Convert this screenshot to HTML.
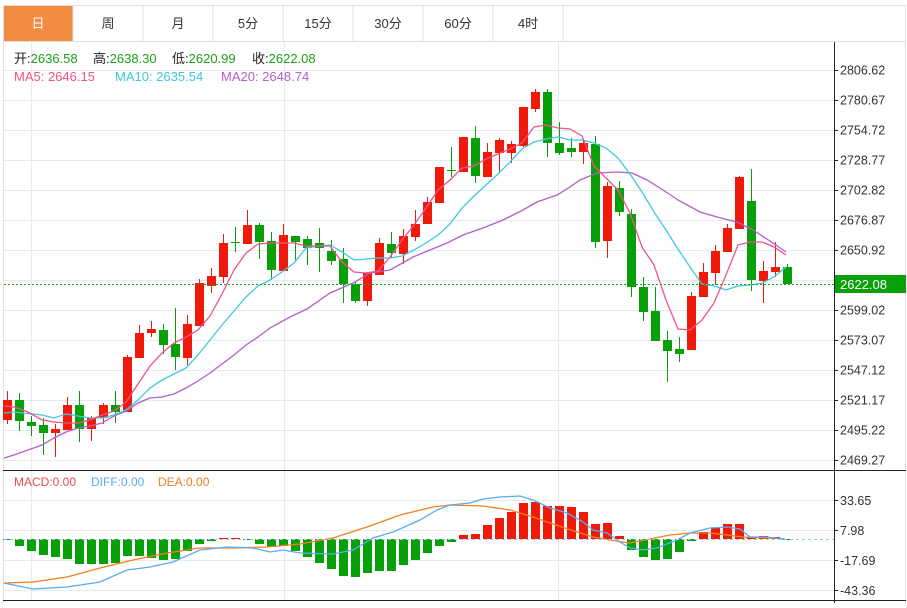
<!DOCTYPE html>
<html><head><meta charset="utf-8"><style>
body{margin:0;background:#fff;width:907px;height:603px;overflow:hidden;font-family:"Liberation Sans","Noto Sans CJK SC",sans-serif}
svg text{font-family:"Liberation Sans","Noto Sans CJK SC",sans-serif}
</style></head><body>
<svg id="s" width="907" height="603" xmlns="http://www.w3.org/2000/svg">
<rect x="3.5" y="5.5" width="902" height="600" fill="#fff" stroke="#e0e0e0"/>
<rect x="4" y="6" width="69" height="35" fill="#f38b40"/>
<g stroke="#e0e0e0"><line x1="73" y1="6" x2="73" y2="41"/><line x1="143" y1="6" x2="143" y2="41"/><line x1="213" y1="6" x2="213" y2="41"/><line x1="283" y1="6" x2="283" y2="41"/><line x1="353" y1="6" x2="353" y2="41"/><line x1="423" y1="6" x2="423" y2="41"/><line x1="493" y1="6" x2="493" y2="41"/><line x1="563" y1="6" x2="563" y2="41"/><line x1="3" y1="41.5" x2="906" y2="41.5"/></g>
<g font-size="13" text-anchor="middle" fill="#333"><text x="38" y="28" fill="#fff">日</text><text x="108" y="28">周</text><text x="178" y="28">月</text><text x="248" y="28">5分</text><text x="318" y="28">15分</text><text x="388" y="28">30分</text><text x="458" y="28">60分</text><text x="528" y="28">4时</text></g>
<g id="grid" stroke="#e3ebf2" stroke-width="1"></g>
<g font-size="13">
<text x="14" y="63" fill="#222">开:<tspan fill="#1aa01a">2636.58</tspan></text>
<text x="93" y="63" fill="#222">高:<tspan fill="#1aa01a">2638.30</tspan></text>
<text x="172" y="63" fill="#222">低:<tspan fill="#1aa01a">2620.99</tspan></text>
<text x="252" y="63" fill="#222">收:<tspan fill="#1aa01a">2622.08</tspan></text>
<text x="14" y="81" fill="#f0528a">MA5: 2646.15</text>
<text x="115" y="81" fill="#3ec8e0">MA10: 2635.54</text>
<text x="221" y="81" fill="#b45ec7">MA20: 2648.74</text>
<text x="14" y="486" font-size="12" fill="#f04a4a">MACD:0.00</text>
<text x="91" y="486" font-size="12" fill="#5aabf0">DIFF:0.00</text>
<text x="158" y="486" font-size="12" fill="#f57f20">DEA:0.00</text></g>
<g id="c"></g>
<line x1="4" y1="284.5" x2="834" y2="284.5" stroke="#1aa01a" stroke-dasharray="2,2"/>
<line x1="4" y1="539.5" x2="834" y2="539.5" stroke="#9ccbea" stroke-dasharray="3,3"/>
<line x1="3" y1="470.5" x2="906" y2="470.5" stroke="#222"/>
<line x1="3" y1="600.5" x2="906" y2="600.5" stroke="#222"/>
<line x1="834.5" y1="42" x2="834.5" y2="603" stroke="#222"/>
<g id="ax" font-size="12.5" fill="#333"></g>
<rect x="835" y="275" width="71" height="18" fill="#0aa00a"/>
<text x="840" y="289" font-size="13" fill="#fff">2622.08</text>
</svg>
<script>
var NS="http://www.w3.org/2000/svg",g=document.getElementById('c'),gr=document.getElementById('grid'),ax=document.getElementById('ax');
function el(p,t,a){var e=document.createElementNS(NS,t);for(var k in a)e.setAttribute(k,a[k]);p.appendChild(e);return e;}
var pl=["2806.62","2780.67","2754.72","2728.77","2702.82","2676.87","2650.92","2624.97","2599.02","2573.07","2547.12","2521.17","2495.22","2469.27"];
for(var i=0;i<14;i++){var y=70+30*i+.5;el(gr,'line',{x1:4,y1:y,x2:834,y2:y});if(i!=7){el(ax,'line',{x1:834,y1:y,x2:838,y2:y,stroke:'#222'});el(ax,'text',{x:840,y:y+4}).textContent=pl[i];}}
[500,530,560,590].forEach(function(y,i){el(gr,'line',{x1:4,y1:y+.5,x2:834,y2:y+.5});el(ax,'line',{x1:834,y1:y+.5,x2:838,y2:y+.5,stroke:'#222'});el(ax,'text',{x:840,y:y+5}).textContent=["33.65","7.98","-17.69","-43.36"][i];});
[31,284,558].forEach(function(x){el(gr,'line',{x1:x+.5,y1:42,x2:x+.5,y2:600});});
var R='#f01a0a',G='#08a008';
var C=[[400,420,391,424,1],[400,421,393,431,0],[422,426,416,436,0],[425,433,418,455,0],[429,433,424,457,1],[405,430,397,430,1],[405,429,391,442,0],[418,429,416,441,1],[405,418,403,424,1],[405,412,391,423,0],[357,412,355,412,1],[333,358,325,358,1],[329,333,321,337,1],[330,345,324,354,0],[344,357,308,370,0],[324,358,315,365,1],[283,326,279,326,1],[276,286,268,293,1],[243,277,234,283,1],[242,243,227,252,0],[225,244,210,244,1],[225,242,223,259,0],[241,270,232,280,0],[235,271,224,271,1],[236,242,236,260,0],[239,248,236,265,0],[243,248,228,272,0],[251,261,240,265,0],[259,284,248,303,0],[284,301,282,303,0],[273,301,272,306,1],[243,275,238,275,1],[244,253,232,258,0],[236,254,229,264,1],[224,237,210,241,1],[202,224,197,224,1],[167,203,167,203,1],[170,171,147,177,0],[137,172,137,172,1],[138,176,126,183,0],[152,177,143,177,1],[140,153,138,173,1],[144,153,141,163,1],[107,146,107,147,1],[92,109,89,112,1],[92,143,89,157,0],[143,153,122,155,0],[148,152,138,157,0],[143,152,141,164,1],[144,242,136,248,0],[186,241,182,258,1],[188,212,181,216,0],[214,287,209,297,0],[287,312,277,321,0],[311,341,287,341,0],[340,351,331,382,0],[349,354,337,362,0],[296,350,292,350,1],[272,297,263,297,1],[251,273,245,285,1],[228,252,224,252,1],[177,229,176,229,1],[201,280,169,291,0],[271,281,261,303,1],[267,272,242,277,1],[267,284,264,284,0]];
var H=[540,546,551,555,557,559,564,564,564,563,556,556,558,560,559,551,544,541,538,538,539,544,547,546,551,557,563,569,576,577,573,571,571,565,560,553,546,542,535,534,525,518,512,503,502,506,506,507,512,524,523,536,550,557,560,559,552,541,532,528,524,524,537,536,537,539];
function line(pts,col){el(g,'polyline',{points:pts,fill:'none',stroke:col,'stroke-width':1.3});}
C.forEach(function(c,i){var x=7+12*i,col=c[4]?R:G;el(g,'line',{x1:x+.5,y1:c[2],x2:x+.5,y2:c[3],stroke:col});el(g,'rect',{x:x-4,y:c[0],width:9,height:Math.max(1,c[1]-c[0]),fill:col});
var h=H[i];el(g,'rect',{x:x-4,y:Math.min(h,539),width:9,height:Math.max(1,Math.abs(h-539)),fill:h<539?R:G});});
line("4,458 14,455 28,450 42,445 54,438 66,432 78,428 90,426 102,423 114,416 126,411 138,403 150,398 162,397 174,394 186,388 198,381 210,373 222,364 234,355 246,345 258,337 270,328 290,317 307,309 330,293 353,283 370,273 390,270 413,257 430,250 447,243 463,235 483,228 503,220 523,210 537,202 557,195 570,187 580,180 597,173 618,172 632,173 647,180 663,190 678,200 700,212 717,217 737,222 753,230 773,243 786,252",'#b45ec7');
line("4,413 14,412 42,415 54,418 66,414 78,416 90,418 102,418 114,415 126,410 138,400 150,388 162,380 174,374 186,368 198,355 210,340 222,325 234,311 246,297 258,286 270,280 282,272 294,263 306,248 318,246 330,245 342,252 354,260 366,259 378,258 390,258 402,256 414,250 426,243 438,235 450,224 462,208 474,196 486,185 498,174 510,162 522,149 534,142 546,139 558,137 570,140 582,140 594,143 606,148 618,158 630,174 642,192 654,212 666,230 678,249 690,267 702,284 714,286 726,290 738,286 750,285 762,283 774,277 786,267",'#3ec8e0');
line("4,406 14,407 28,412 42,420 54,422 66,423 78,423 90,420 102,415 114,411 126,402 138,384 150,366 162,353 174,343 186,337 198,330 210,316 222,294 234,270 246,253 258,244 270,243 282,243 294,243 306,246 318,246 330,246 342,262 354,272 366,273 378,271 390,257 402,240 414,225 426,208 438,190 450,180 462,168 474,166 486,159 498,154 510,149 522,143 534,127 546,125 558,128 570,129 582,136 594,166 606,178 618,190 630,213 642,247 654,265 666,300 678,329 690,330 702,320 714,303 726,275 738,245 750,242 762,242 774,247 786,255",'#f0528a');
line("4,583 33,582 67,577 100,568 133,560 167,553 200,548 233,548 267,547 300,544 333,538 367,527 400,515 433,507 450,505 483,506 510,510 533,517 550,523 577,532 593,537 610,540 630,543 650,539 670,535 690,533 710,533 727,535 743,537 767,538 785,539",'#f57f20');
line("4,583 33,589 67,587 100,582 127,570 150,567 173,562 200,550 227,547 253,548 270,552 283,550 300,553 333,554 353,550 373,538 393,532 420,520 437,510 450,505 470,503 483,499 500,497 520,496 533,500 550,508 567,513 583,522 593,530 607,533 620,542 630,548 643,550 657,548 677,540 690,533 710,528 727,527 740,529 750,537 767,537 785,539",'#5aabf0');
</script>
</body></html>
